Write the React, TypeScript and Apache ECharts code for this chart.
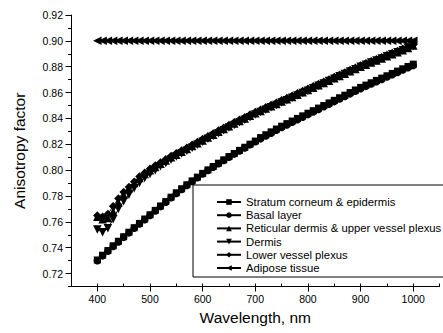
import React, { useEffect, useRef } from "react";
import * as echarts from "echarts";

const wavelengths = [
  400, 410, 420, 430, 440, 450, 460, 470, 480, 490, 500, 510, 520, 530, 540, 550, 560, 570, 580, 590,
  600, 610, 620, 630, 640, 650, 660, 670, 680, 690, 700, 710, 720, 730, 740, 750, 760, 770, 780, 790,
  800, 810, 820, 830, 840, 850, 860, 870, 880, 890, 900, 910, 920, 930, 940, 950, 960, 970, 980, 990, 1000,
];

const stratum = [
  0.7305, 0.7342, 0.7378, 0.7415, 0.745, 0.7485, 0.752, 0.7555, 0.7588, 0.7622, 0.7655, 0.7689, 0.7723, 0.7757, 0.7791, 0.7825, 0.7856, 0.7887, 0.7917, 0.7946,
  0.7975, 0.8002, 0.8028, 0.8054, 0.808, 0.8105, 0.8129, 0.8153, 0.8177, 0.8201, 0.8225, 0.8252, 0.8274, 0.8296, 0.8318, 0.834, 0.836, 0.838, 0.84, 0.842,
  0.844, 0.846, 0.848, 0.85, 0.852, 0.854, 0.856, 0.858, 0.86, 0.862, 0.864, 0.8658, 0.8676, 0.8694, 0.8712, 0.873, 0.8748, 0.8766, 0.8784, 0.8802, 0.882,
];

const basal = [
  0.73, 0.7337, 0.7373, 0.741, 0.7445, 0.748, 0.7515, 0.755, 0.7583, 0.7617, 0.765, 0.7684, 0.7718, 0.7752, 0.7786, 0.782, 0.7851, 0.7882, 0.7912, 0.7941,
  0.797, 0.7997, 0.8023, 0.8049, 0.8075, 0.81, 0.8124, 0.8148, 0.8172, 0.8196, 0.822, 0.8242, 0.8264, 0.8286, 0.8308, 0.833, 0.835, 0.837, 0.839, 0.841,
  0.843, 0.845, 0.847, 0.849, 0.851, 0.853, 0.855, 0.857, 0.859, 0.861, 0.863, 0.8648, 0.8666, 0.8684, 0.8702, 0.872, 0.8738, 0.8756, 0.8774, 0.8792, 0.881,
];

const reticular = [
  0.764, 0.762, 0.763, 0.768, 0.775, 0.781, 0.786, 0.79, 0.794, 0.797, 0.8, 0.8025, 0.805, 0.8075, 0.81, 0.812, 0.8142, 0.8164, 0.8186, 0.8208,
  0.823, 0.8252, 0.8274, 0.8296, 0.8318, 0.834, 0.836, 0.838, 0.84, 0.842, 0.844, 0.8458, 0.8476, 0.8494, 0.8512, 0.853, 0.8548, 0.8566, 0.8584, 0.8602,
  0.862, 0.8638, 0.8656, 0.8674, 0.8692, 0.871, 0.8728, 0.8746, 0.8764, 0.8782, 0.88, 0.8816, 0.8832, 0.8848, 0.8864, 0.888, 0.8896, 0.8912, 0.8928, 0.8944, 0.8965,
];

const dermis = [
  0.754, 0.752, 0.755, 0.762, 0.77, 0.776, 0.781, 0.786, 0.79, 0.794, 0.797, 0.8, 0.803, 0.8055, 0.808, 0.8105, 0.8128, 0.815, 0.8173, 0.8196,
  0.822, 0.8242, 0.8264, 0.8286, 0.8308, 0.833, 0.835, 0.837, 0.839, 0.841, 0.843, 0.8449, 0.8467, 0.8486, 0.8504, 0.8523, 0.8541, 0.856, 0.8578, 0.8597,
  0.8615, 0.8633, 0.8652, 0.867, 0.8689, 0.8707, 0.8726, 0.8744, 0.8763, 0.8781, 0.88, 0.8816, 0.8832, 0.8848, 0.8864, 0.888, 0.8896, 0.8912, 0.8928, 0.8944, 0.896,
];

const lowerVessel = [
  0.765, 0.764, 0.766, 0.772, 0.778, 0.783, 0.787, 0.791, 0.795, 0.798, 0.801, 0.8035, 0.806, 0.8085, 0.811, 0.813, 0.8152, 0.8174, 0.8196, 0.8218,
  0.824, 0.8262, 0.8284, 0.8306, 0.8328, 0.835, 0.837, 0.839, 0.841, 0.843, 0.845, 0.8468, 0.8486, 0.8504, 0.8522, 0.854, 0.8558, 0.8576, 0.8594, 0.8612,
  0.863, 0.8648, 0.8666, 0.8684, 0.8702, 0.872, 0.8738, 0.8756, 0.8774, 0.8792, 0.881, 0.8826, 0.8842, 0.8858, 0.8874, 0.889, 0.8906, 0.8922, 0.8938, 0.8954, 0.897,
];

const adipose = [
  0.9, 0.9, 0.9, 0.9, 0.9, 0.9, 0.9, 0.9, 0.9, 0.9, 0.9, 0.9, 0.9, 0.9, 0.9, 0.9, 0.9, 0.9, 0.9, 0.9,
  0.9, 0.9, 0.9, 0.9, 0.9, 0.9, 0.9, 0.9, 0.9, 0.9, 0.9, 0.9, 0.9, 0.9, 0.9, 0.9, 0.9, 0.9, 0.9, 0.9,
  0.9, 0.9, 0.9, 0.9, 0.9, 0.9, 0.9, 0.9, 0.9, 0.9, 0.9, 0.9, 0.9, 0.9, 0.9, 0.9, 0.9, 0.9, 0.9, 0.9, 0.9,
];

const xMajorTicks = [400, 500, 600, 700, 800, 900, 1000];
const yMajorTicks = [0.72, 0.74, 0.76, 0.78, 0.8, 0.82, 0.84, 0.86, 0.88, 0.9, 0.92];

const seriesDefs = [
  { name: "Stratum corneum & epidermis", data: stratum, symbol: "rect", rotate: 0, size: 7 },
  { name: "Basal layer", data: basal, symbol: "circle", rotate: 0, size: 7.5 },
  { name: "Reticular dermis & upper vessel plexus", data: reticular, symbol: "triangle", rotate: 0, size: 8.5 },
  { name: "Dermis", data: dermis, symbol: "triangle", rotate: 180, size: 8.5 },
  { name: "Lower vessel plexus", data: lowerVessel, symbol: "diamond", rotate: 0, size: 8.5 },
  { name: "Adipose tissue", data: adipose, symbol: "triangle", rotate: 90, size: 8.5 },
];

const FONT = "Liberation Sans, Arial, sans-serif";

export default function App() {
  const ref = useRef<HTMLDivElement>(null);
  useEffect(() => {
    if (!ref.current) return;
    const chart = echarts.init(ref.current, null, { renderer: "svg" });
    const black = "#000";
    chart.setOption({
      animation: false,
      backgroundColor: "#fff",
      textStyle: { fontFamily: FONT, color: black },
      grid: { left: 71, right: 3.4, top: 15, bottom: 46.5, containLabel: false },
      xAxis: [
        {
          type: "value",
          min: 350,
          max: 1050,
          interval: 50,
          position: "bottom",
          axisLine: { show: true, lineStyle: { color: black, width: 1 } },
          axisTick: { show: true, inside: true, length: 3, lineStyle: { color: black } },
          axisLabel: { show: false },
          splitLine: { show: false },
        },
        {
          type: "value",
          min: 350,
          max: 1050,
          position: "bottom",
          axisLine: { show: false },
          axisTick: { show: true, length: 5, customValues: xMajorTicks, lineStyle: { color: black } },
          axisLabel: {
            show: true,
            customValues: xMajorTicks,
            formatter: (v: number) => String(Math.round(v)),
            fontSize: 10.5,
            fontFamily: FONT,
            color: black,
            margin: 7,
          },
          splitLine: { show: false },
          name: "Wavelength, nm",
          nameLocation: "middle",
          nameGap: 21,
          nameTextStyle: { fontSize: 15.5, fontFamily: FONT, color: black },
        },
      ],
      yAxis: [
        {
          type: "value",
          min: 0.71,
          max: 0.92,
          interval: 0.01,
          position: "left",
          axisLine: { show: true, lineStyle: { color: black, width: 1 } },
          axisTick: { show: true, length: 3, lineStyle: { color: black } },
          axisLabel: { show: false },
          splitLine: { show: false },
        },
        {
          type: "value",
          min: 0.71,
          max: 0.92,
          position: "left",
          axisLine: { show: false },
          axisTick: { show: true, length: 5.5, customValues: yMajorTicks, lineStyle: { color: black } },
          axisLabel: {
            show: true,
            customValues: yMajorTicks,
            formatter: (v: number) => v.toFixed(2),
            fontSize: 10.5,
            fontFamily: FONT,
            color: black,
            margin: 8,
          },
          splitLine: { show: false },
          name: "Anisotropy factor",
          nameLocation: "middle",
          nameGap: 44,
          nameTextStyle: { fontSize: 15.5, fontFamily: FONT, color: black },
        },
      ],
      legend: {
        orient: "vertical",
        left: 193,
        top: 185,
        borderColor: black,
        borderWidth: 1,
        padding: [11, 20, 3, 23],
        itemWidth: 24,
        itemHeight: 7,
        itemGap: 1.2,
        textStyle: { fontSize: 11.3, lineHeight: 12, color: black, fontFamily: FONT },
        data: seriesDefs.map((s) => s.name),
      },
      series: seriesDefs.map((s) => ({
        name: s.name,
        type: "line",
        xAxisIndex: 0,
        yAxisIndex: 0,
        data: s.data.map((v, i) => [wavelengths[i], v]),
        symbol: s.symbol,
        symbolSize: s.size,
        symbolRotate: s.rotate,
        showSymbol: true,
        showAllSymbol: true,
        lineStyle: { color: black, width: 1 },
        itemStyle: { color: black },
        emphasis: { disabled: true },
      })),
    });
    return () => chart.dispose();
  }, []);
  return (
    <div
      ref={ref}
      style={{ position: "fixed", left: 0, top: 0, width: 443, height: 333, background: "#fff" }}
    />
  );
}
